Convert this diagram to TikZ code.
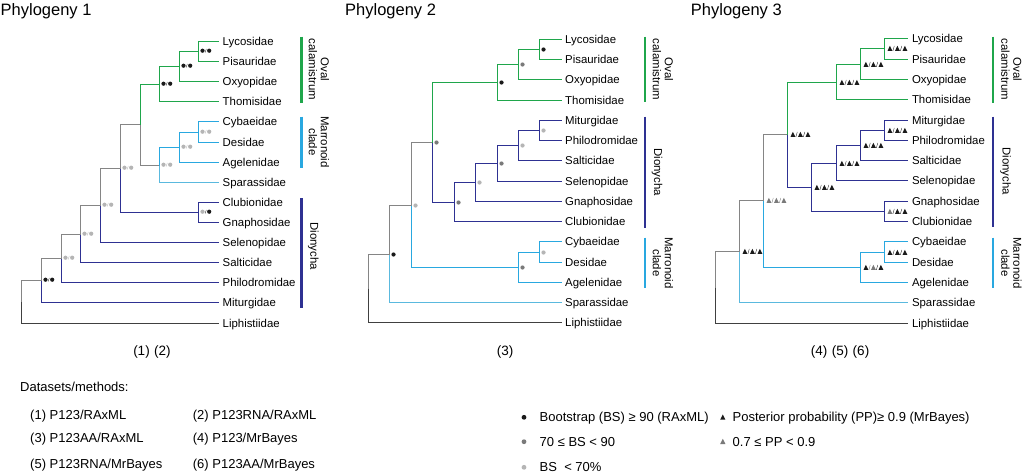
\documentclass[tikz,border=0pt]{standalone}
\usepackage{fontspec}
\setmainfont{Liberation Sans}
\usepackage{tikz}
\usetikzlibrary{calc}

\definecolor{grn}{HTML}{1FA64B}
\definecolor{lbl}{HTML}{29A8E0}
\definecolor{spa}{HTML}{5AB9DE}
\definecolor{dbl}{HTML}{2E3192}
\definecolor{gry}{HTML}{858585}
\definecolor{liph}{HTML}{404040}
\definecolor{bk}{HTML}{1A1A1A}
\definecolor{dg}{HTML}{7A7A7A}
\definecolor{lg}{HTML}{B5B5B5}

\newcommand\bsdots[3]{\fill[#2] ([xshift=4pt,yshift=.8pt]#1) circle (2.1pt);
  \draw[#3,line width=.3pt] ([xshift=6.6pt,yshift=-1pt]#1) -- ++(1.2pt,3.6pt);
  \fill[#3] ([xshift=10.7pt,yshift=.8pt]#1) circle (2.1pt);}
\newcommand\bsdot[2]{\fill[#2] ([xshift=4pt]#1) circle (2.1pt);}
\newcommand\pptri[4]{\fill[#2] ([xshift=3pt,yshift=-2.3pt]#1) -- ++(4.8pt,0) -- ++(-2.4pt,5pt) -- cycle;
  \draw[#3,line width=.35pt] ([xshift=8.4pt,yshift=-2.3pt]#1) -- ++(1.4pt,5pt);
  \fill[#3] ([xshift=10.5pt,yshift=-2.3pt]#1) -- ++(4.8pt,0) -- ++(-2.4pt,5pt) -- cycle;
  \draw[#4,line width=.35pt] ([xshift=15.9pt,yshift=-2.3pt]#1) -- ++(1.4pt,5pt);
  \fill[#4] ([xshift=18pt,yshift=-2.3pt]#1) -- ++(4.8pt,0) -- ++(-2.4pt,5pt) -- cycle;}

\tikzset{
  br/.style={line width=1.6pt},
  bar/.style={line width=2.2pt},
  leaf/.style={anchor=west, inner xsep=3.5pt, inner ysep=0pt, text height=8.2pt, text depth=0pt, font=\fontsize{11.4}{12}\selectfont},
  clade/.style={rotate=-90, align=center, inner sep=0pt, font=\fontsize{11.4}{12}\selectfont},
  title/.style={anchor=base west, inner sep=0pt, font=\fontsize{16.5}{19}\selectfont},
  sub/.style={inner sep=0pt, font=\fontsize{13.5}{15}\selectfont},
  lgd/.style={anchor=west, inner sep=0pt, text height=9.3pt, text depth=0pt, font=\fontsize{13}{15}\selectfont}
}

\begin{document}
\begin{tikzpicture}[x=1pt,y=-1pt]
  \path[fill=white,use as bounding box] (0,0) rectangle (1024,474);

  % Phylogeny 1
  \node[title] (t1) at (0.5,15.3) {Phylogeny 1};
  \foreach \t [count=\i from 0] in {Lycosidae,Pisauridae,Oxyopidae,Thomisidae,Cybaeidae,Desidae,Agelenidae,Sparassidae,Clubionidae,Gnaphosidae,Selenopidae,Salticidae,Philodromidae,Miturgidae,Liphistiidae}
    \node[leaf] (p1-\i) at (219,{floor(41.5+20.11*\i)+0.5}) {\t};
  \coordinate (p1a) at (198.5,51.5);
  \coordinate (p1b) at (179.5,66.5);
  \coordinate (p1c) at (159.5,84.5);
  \coordinate (p1d) at (198.5,132.5);
  \coordinate (p1e) at (179.5,147.5);
  \coordinate (p1f) at (159.5,165.5);
  \coordinate (p1g) at (140.5,124.5);
  \coordinate (p1h) at (198.5,212.5);
  \coordinate (p1i) at (120.5,168.5);
  \coordinate (p1j) at (100.5,205.5);
  \coordinate (p1k) at (80.5,234.5);
  \coordinate (p1l) at (61.5,258.5);
  \coordinate (p1m) at (41.5,280.5);
  \coordinate (p1r) at (21.5,302);
  \draw[br,gry] (p1r) |- (p1m) (p1m) |- (p1l) (p1l) |- (p1k) (p1k) |- (p1j) (p1j) |- (p1i) (p1i) |- (p1g) (p1g) |- (p1f);
  \draw[br,liph] (p1r) |- (p1-14);
  \draw[br,dbl] (p1m) |- (p1-13) (p1l) |- (p1-12) (p1k) |- (p1-11) (p1j) |- (p1-10) (p1i) |- (p1h) (p1h) |- (p1-8) (p1h) |- (p1-9);
  \draw[br,grn] (p1g) |- (p1c) (p1c) |- (p1b) (p1c) |- (p1-3) (p1b) |- (p1a) (p1b) |- (p1-2) (p1a) |- (p1-0) (p1a) |- (p1-1);
  \draw[br,lbl] (p1f) |- (p1e) (p1e) |- (p1d) (p1e) |- (p1-6) (p1d) |- (p1-4) (p1d) |- (p1-5);
  \draw[br,spa] (p1f) |- (p1-7);
  \bsdots{p1a}{bk}{bk} \bsdots{p1b}{bk}{bk} \bsdots{p1c}{bk}{bk}
  \bsdots{p1d}{lg}{lg} \bsdots{p1e}{lg}{lg} \bsdots{p1f}{lg}{lg}
  \bsdots{p1h}{lg}{bk} \bsdots{p1i}{lg}{lg} \bsdots{p1j}{lg}{lg}
  \bsdots{p1k}{lg}{lg} \bsdots{p1l}{lg}{lg} \bsdots{p1m}{bk}{bk}
  \draw[bar,grn] (301.5,36.7) -- (301.5,102.7);
  \draw[bar,lbl] (301.5,116.7) -- (301.5,167.7);
  \draw[bar,dbl] (301.5,198.3) -- (301.5,308.3);
  \node[clade] (p1oval) at (319,69.5) {Oval\\calamistrum};
  \node[clade] (p1marr) at (319,142) {Marronoid\\clade};
  \node[clade] (p1dio) at (313.3,246) {Dionycha};
  \node[sub] (s1) at (152,351.7) {(1)\,\,(2)};

  % Phylogeny 2
  \node[title] (t2) at (345,15.3) {Phylogeny 2};
  \foreach \t [count=\i from 0] in {Lycosidae,Pisauridae,Oxyopidae,Thomisidae,Miturgidae,Philodromidae,Salticidae,Selenopidae,Gnaphosidae,Clubionidae,Cybaeidae,Desidae,Agelenidae,Sparassidae,Liphistiidae}
    \node[leaf] (p2-\i) at (561.5,{floor(39.3+20.26*\i)+0.5}) {\t};
  \coordinate (p2a) at (539.5,49.5);
  \coordinate (p2b) at (518.5,64.5);
  \coordinate (p2c) at (497.5,82.5);
  \coordinate (p2d) at (539.5,130.5);
  \coordinate (p2e) at (518.5,145.5);
  \coordinate (p2f) at (497.5,163.5);
  \coordinate (p2g) at (475.5,182.5);
  \coordinate (p2h) at (454.5,202.5);
  \coordinate (p2i) at (432.5,142.5);
  \coordinate (p2j) at (539.5,252.5);
  \coordinate (p2k) at (518.5,267.5);
  \coordinate (p2m) at (411.5,205.5);
  \coordinate (p2n) at (389.5,254.5);
  \coordinate (p2r) at (368.5,288.5);
  \draw[br,gry] (p2r) |- (p2n) (p2n) |- (p2m) (p2m) |- (p2i);
  \draw[br,liph] (p2r) |- (p2-14);
  \draw[br,spa] (p2n) |- (p2-13);
  \draw[br,lbl] (p2m) |- (p2k) (p2k) |- (p2j) (p2k) |- (p2-12) (p2j) |- (p2-10) (p2j) |- (p2-11);
  \draw[br,grn] (p2i) |- (p2c) (p2c) |- (p2b) (p2c) |- (p2-3) (p2b) |- (p2a) (p2b) |- (p2-2) (p2a) |- (p2-0) (p2a) |- (p2-1);
  \draw[br,dbl] (p2i) |- (p2h) (p2h) |- (p2g) (p2h) |- (p2-9) (p2g) |- (p2f) (p2g) |- (p2-8) (p2f) |- (p2e) (p2f) |- (p2-7)
    (p2e) |- (p2d) (p2e) |- (p2-6) (p2d) |- (p2-4) (p2d) |- (p2-5);
  \bsdot{p2a}{bk} \bsdot{p2b}{dg} \bsdot{p2c}{bk} \bsdot{p2i}{dg}
  \bsdot{p2d}{lg} \bsdot{p2e}{lg} \bsdot{p2f}{dg} \bsdot{p2g}{lg} \bsdot{p2h}{dg}
  \bsdot{p2j}{lg} \bsdot{p2k}{dg} \bsdot{p2m}{lg} \bsdot{p2n}{bk}
  \draw[bar,grn] (645,36.7) -- (645,102.3);
  \draw[bar,dbl] (645,116.7) -- (645,227.7);
  \draw[bar,lbl] (645,237.7) -- (645,288);
  \node[clade] (p2oval) at (663,69.5) {Oval\\calamistrum};
  \node[clade] (p2dio) at (657,172) {Dionycha};
  \node[clade] (p2marr) at (663,263) {Marronoid\\clade};
  \node[sub] (s2) at (505,351.7) {(3)};

  % Phylogeny 3
  \node[title] (t3) at (690.7,15.3) {Phylogeny 3};
  \foreach \t [count=\i from 0] in {Lycosidae,Pisauridae,Oxyopidae,Thomisidae,Miturgidae,Philodromidae,Salticidae,Selenopidae,Gnaphosidae,Clubionidae,Cybaeidae,Desidae,Agelenidae,Sparassidae,Liphistiidae}
    \node[leaf] (p3-\i) at (908.3,{floor(38.8+20.3*\i)+0.5}) {\t};
  \coordinate (p3a) at (884.5,48.5);
  \coordinate (p3b) at (860.5,64.5);
  \coordinate (p3c) at (836.5,82.5);
  \coordinate (p3d) at (884.5,130.5);
  \coordinate (p3e) at (860.5,145.5);
  \coordinate (p3f) at (836.5,163.5);
  \coordinate (p3g) at (884.5,211.5);
  \coordinate (p3h) at (811.5,187.5);
  \coordinate (p3i) at (787.5,134.5);
  \coordinate (p3j) at (884.5,252.5);
  \coordinate (p3k) at (860.5,267.5);
  \coordinate (p3m) at (763.5,200.5);
  \coordinate (p3n) at (739.5,251.5);
  \coordinate (p3r) at (715.5,287.5);
  \draw[br,gry] (p3r) |- (p3n) (p3n) |- (p3m) (p3m) |- (p3i);
  \draw[br,liph] (p3r) |- (p3-14);
  \draw[br,spa] (p3n) |- (p3-13);
  \draw[br,lbl] (p3m) |- (p3k) (p3k) |- (p3j) (p3k) |- (p3-12) (p3j) |- (p3-10) (p3j) |- (p3-11);
  \draw[br,grn] (p3i) |- (p3c) (p3c) |- (p3b) (p3c) |- (p3-3) (p3b) |- (p3a) (p3b) |- (p3-2) (p3a) |- (p3-0) (p3a) |- (p3-1);
  \draw[br,dbl] (p3i) |- (p3h) (p3h) |- (p3f) (p3h) |- (p3g) (p3g) |- (p3-8) (p3g) |- (p3-9) (p3f) |- (p3e) (p3f) |- (p3-7)
    (p3e) |- (p3d) (p3e) |- (p3-6) (p3d) |- (p3-4) (p3d) |- (p3-5);
  \pptri{p3a}{bk}{bk}{bk} \pptri{p3b}{bk}{bk}{bk} \pptri{p3c}{bk}{bk}{bk} \pptri{p3i}{bk}{bk}{bk}
  \pptri{p3d}{bk}{bk}{bk} \pptri{p3e}{bk}{bk}{bk} \pptri{p3f}{bk}{bk}{bk} \pptri{p3h}{bk}{bk}{bk}
  \pptri{p3g}{dg}{bk}{bk} \pptri{p3m}{dg}{dg}{dg} \pptri{p3j}{bk}{bk}{bk} \pptri{p3k}{bk}{dg}{bk}
  \pptri{p3n}{bk}{bk}{bk}
  \draw[bar,grn] (993,36.7) -- (993,102.7);
  \draw[bar,dbl] (993,116.7) -- (993,226.7);
  \draw[bar,lbl] (993,237.7) -- (993,288.3);
  \node[clade] (p3oval) at (1011.5,69.5) {Oval\\calamistrum};
  \node[clade] (p3dio) at (1005.5,171) {Dionycha};
  \node[clade] (p3marr) at (1011.5,263) {Marronoid\\clade};
  \node[sub] (s3) at (840,351.7) {(4)\,\,(5)\,\,(6)};

  % legend
  \node[lgd] (ds) at (20,387.3) {Datasets/methods:};
  \node[lgd] (ds1) at (30,415) {(1) P123/RAxML};
  \node[lgd] (ds2) at (192.7,415) {(2) P123RNA/RAxML};
  \node[lgd] (ds3) at (30,438.3) {(3) P123AA/RAxML};
  \node[lgd] (ds4) at (192.7,438.3) {(4) P123/MrBayes};
  \node[lgd] (ds5) at (30,464.3) {(5) P123RNA/MrBayes};
  \node[lgd] (ds6) at (192.7,464.3) {(6) P123AA/MrBayes};
  \fill[bk] (524,417.3) circle (2.4pt);
  \fill[dg] (524,441.7) circle (2.4pt);
  \fill[lg] (524,467.3) circle (2.4pt);
  \node[lgd] (bs1) at (539.5,417.3) {Bootstrap (BS) ≥ 90 (RAxML)};
  \node[lgd] (bs2) at (539.5,441.7) {70 ≤ BS < 90};
  \node[lgd] (bs3) at (539.5,467.3) {BS\ \ < 70\%};
  \fill[bk] (720.2,419.6) -- ++(5.2pt,0) -- ++(-2.6pt,5.2pt) -- cycle;
  \fill[dg] (720.2,444) -- ++(5.2pt,0) -- ++(-2.6pt,5.2pt) -- cycle;
  \node[lgd] (pp1) at (732.5,417.3) {Posterior probability (PP)≥ 0.9 (MrBayes)};
  \node[lgd] (pp2) at (732.5,441.7) {0.7 ≤ PP < 0.9};
\end{tikzpicture}
\end{document}
